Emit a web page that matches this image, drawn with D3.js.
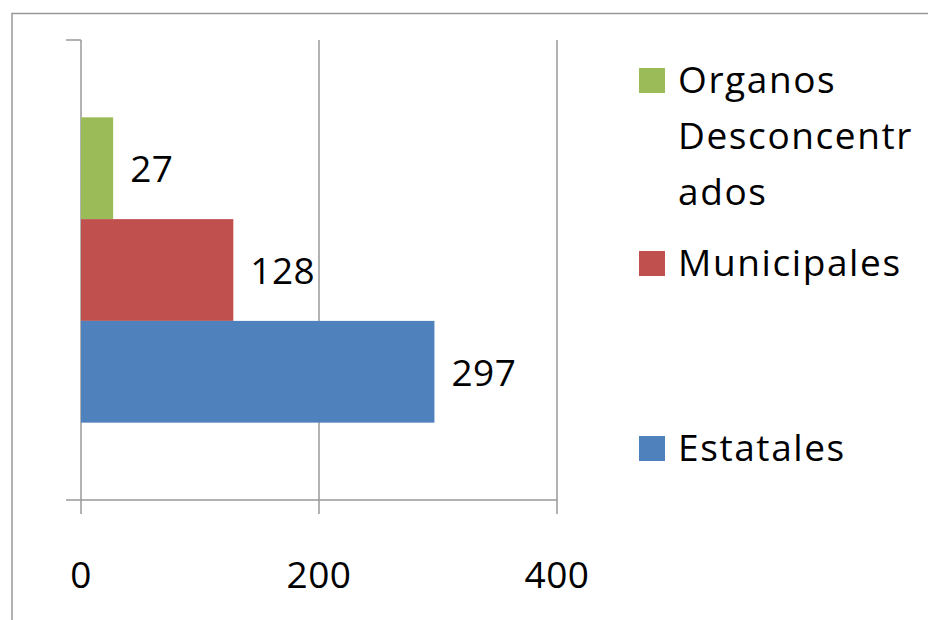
<!DOCTYPE html>
<html>
<head>
<meta charset="utf-8">
<script src="https://cdn.jsdelivr.net/npm/d3@7"></script>
<style>
  body { margin: 0; background: #fff; }
  text { font-family: "Open Sans", "Noto Sans", sans-serif; fill: #000; }
</style>
</head>
<body>
<div id="chart"></div>
<script>
(function () {
    // 数据
    const seriesNames = ["Organos Desconcentrados", "Municipales", "Estatales"];
    const seriesValues = [27, 128, 297];
    const seriesColors = ["#9BBB59", "#C0504D", "#4F81BD"];
    const legendLines = [["Organos", "Desconcentr", "ados"], ["Municipales"], ["Estatales"]];
    const xTicks = [0, 200, 400];

    const W = 928, H = 620;
    const plot = { left: 81, right: 557, top: 40, bottom: 500 };
    const fontSize = 37;

    const svg = d3.select("#chart").append("svg")
        .attr("width", W)
        .attr("height", H);

    // 外框
    svg.append("rect")
        .attr("x", 12).attr("y", 13.5)
        .attr("width", W + 20).attr("height", H + 20)
        .attr("fill", "none")
        .attr("stroke", "#999")
        .attr("stroke-width", 1.5);

    // 比例尺
    const x = d3.scaleLinear().domain([0, 400]).range([plot.left, plot.right]);
    const y = d3.scaleBand()
        .domain(seriesNames)
        .range([plot.top, plot.bottom])
        .paddingInner(0)
        .paddingOuter(0.76);

    const axisColor = "#999";

    // 网格线 + 刻度
    svg.append("g").selectAll("line")
        .data(xTicks)
        .join("line")
        .attr("x1", d => x(d)).attr("x2", d => x(d))
        .attr("y1", plot.top).attr("y2", plot.bottom + 14)
        .attr("stroke", axisColor)
        .attr("stroke-width", 1.5);

    // X 轴线
    svg.append("line")
        .attr("x1", plot.left - 15).attr("x2", plot.right)
        .attr("y1", plot.bottom).attr("y2", plot.bottom)
        .attr("stroke", axisColor)
        .attr("stroke-width", 1.5);

    // Y 轴顶部刻度
    svg.append("line")
        .attr("x1", plot.left - 15).attr("x2", plot.left)
        .attr("y1", plot.top).attr("y2", plot.top)
        .attr("stroke", axisColor)
        .attr("stroke-width", 1.5);

    // 刻度标签
    svg.append("g").selectAll("text")
        .data(xTicks)
        .join("text")
        .attr("x", d => x(d))
        .attr("y", 588)
        .attr("text-anchor", "middle")
        .style("font-size", fontSize + "px")
        .style("letter-spacing", "0.5px")
        .text(d => d);

    // 柱子
    const bars = seriesNames.map((n, i) => ({ name: n, value: seriesValues[i], color: seriesColors[i] }));
    svg.append("g").selectAll("rect")
        .data(bars)
        .join("rect")
        .attr("x", x(0))
        .attr("y", d => y(d.name))
        .attr("width", d => x(d.value) - x(0))
        .attr("height", y.bandwidth())
        .attr("fill", d => d.color);

    // 数据标签
    svg.append("g").selectAll("text")
        .data(bars)
        .join("text")
        .attr("x", d => x(d.value) + 17)
        .attr("y", d => y(d.name) + y.bandwidth() / 2 + 14)
        .style("font-size", fontSize + "px")
        .style("letter-spacing", "0.5px")
        .text(d => d.value);

    // 图例
    const legendY = [93, 276, 461];
    const legend = svg.append("g");
    bars.forEach((d, i) => {
        const g = legend.append("g");
        g.append("rect")
            .attr("x", 639).attr("y", legendY[i] - 25)
            .attr("width", 26).attr("height", 25)
            .attr("fill", d.color);
        g.append("text")
            .attr("x", 678)
            .attr("y", legendY[i])
            .style("font-size", fontSize + "px")
            .style("letter-spacing", "1.6px")
            .selectAll("tspan")
            .data(legendLines[i])
            .join("tspan")
            .attr("x", 678)
            .attr("dy", (l, j) => j === 0 ? 0 : 56)
            .text(l => l);
    });
})();
</script>
</body>
</html>
